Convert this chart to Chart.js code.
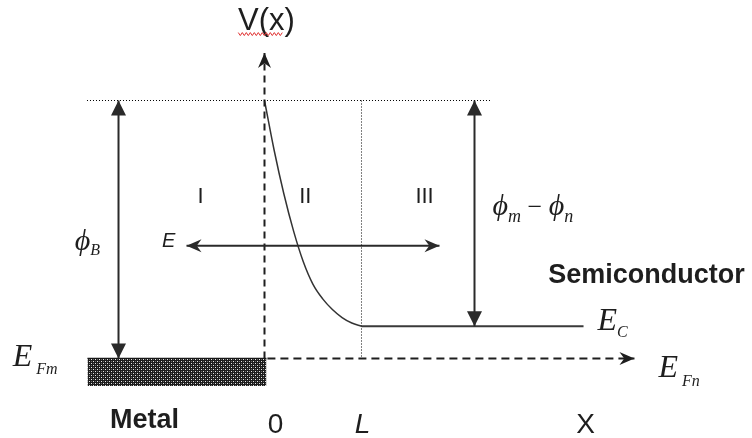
<!DOCTYPE html>
<html>
<head>
<meta charset="utf-8">
<script src="https://cdn.jsdelivr.net/npm/chart.js@4/dist/chart.umd.min.js"></script>
<style>
  html, body { margin: 0; padding: 0; background: #ffffff; }
  canvas { display: block; }
</style>
</head>
<body>
<canvas id="band" width="752" height="438"></canvas>
<script>
// Energy-band diagram of a metal / n-type semiconductor (Schottky) contact.
// Horizontal unit: depletion width L.  Vertical unit: eV above the Fermi level.

const barrierHeight = 0.8;   // phi_B, top of the barrier
const conductionEdge = 0.1;  // E_C - E_F in the neutral semiconductor

// Conduction-band edge across the depletion region (x / L, energy in eV)
const depletionX = [0, 0.1, 0.2, 0.3, 0.4, 0.5, 0.6, 0.7, 0.8, 0.9, 1.0];
const bandEdge   = [0.8, 0.645, 0.51, 0.395, 0.30, 0.23, 0.185, 0.152, 0.127, 0.11, 0.1];

const regionLabels = ['I', 'II', 'III'];
const xTickLabels  = ['0', 'L', 'X'];
const axisTitle    = 'V(x)';
const materialLabels = ['Metal', 'Semiconductor'];

const INK = '#1e1e1e';
const SANS = '"Liberation Sans", Arial, sans-serif';
const SERIF = '"Liberation Serif", "Times New Roman", serif';

const canvas = document.getElementById('band');
const ctx0 = canvas.getContext('2d');

// Cross-hatch fill for the metal
function metalPattern() {
  const tile = document.createElement('canvas');
  tile.width = 4; tile.height = 4;
  const g = tile.getContext('2d');
  g.fillStyle = '#1c1c1c';
  g.fillRect(0, 0, 4, 4);
  g.fillStyle = '#e6e6e6';
  g.fillRect(1, 1, 1, 1);
  g.fillRect(3, 3, 1, 1);
  g.fillStyle = '#6a6a6a';
  g.fillRect(3, 1, 1, 1);
  g.fillRect(1, 3, 1, 1);
  return ctx0.createPattern(tile, 'repeat');
}

const pts = (xs, ys) => xs.map((x, i) => ({ x, y: ys[i] }));
const seg = (x1, y1, x2, y2) => [{ x: x1, y: y1 }, { x: x2, y: y2 }];

const datasets = [
  // barrier-top reference level
  { data: seg(-1.83, barrierHeight, 2.34, barrierHeight), borderColor: '#000000', borderWidth: 1, borderDash: [1, 2] },
  // edge of depletion region at x = L
  { data: seg(1, barrierHeight, 1, 0), borderColor: '#000000', borderWidth: 1, borderDash: [1, 2] },
  // phi_B
  { data: seg(-1.505, 0, -1.505, barrierHeight), borderColor: '#2a2a2a', borderWidth: 2, arrowStart: 'solid', arrowEnd: 'solid' },
  // phi_m - phi_n
  { data: seg(2.165, conductionEdge, 2.165, barrierHeight), borderColor: '#2a2a2a', borderWidth: 2, arrowStart: 'solid', arrowEnd: 'solid' },
  // electric field E
  { data: seg(-0.804, 0.35, 1.804, 0.35), borderColor: '#2a2a2a', borderWidth: 2, arrowStart: 'swept', arrowEnd: 'swept' },
  // V(x) axis
  { data: seg(0, 0, 0, 0.947), borderColor: INK, borderWidth: 2, borderDash: [7, 5], arrowEnd: 'swept' },
  // x axis / Fermi level
  { data: seg(0.03, 0, 3.814, 0), borderColor: INK, borderWidth: 2, borderDash: [8, 5], arrowEnd: 'swept' },
  // band bending
  { data: pts(depletionX, bandEdge), borderColor: '#333333', borderWidth: 1.5, cubicInterpolationMode: 'monotone' },
  // flat conduction band
  { data: seg(1, conductionEdge, 3.289, conductionEdge), borderColor: '#3a3a3a', borderWidth: 2 },
  // metal block
  { data: seg(-1.825, -0.085, 0.02, -0.085), borderWidth: 0, borderColor: 'rgba(0,0,0,0)', fill: 'origin', backgroundColor: metalPattern() },
  { data: seg(-1.825, 0, 0.02, 0), borderColor: '#111111', borderWidth: 1.5 }
].map(d => Object.assign({ showLine: true, pointRadius: 0, pointHoverRadius: 0, fill: false, tension: 0 }, d));

function drawHead(ctx, from, tip, style, color) {
  const a = Math.atan2(tip.y - from.y, tip.x - from.x);
  const len = 15;
  const half = style === 'swept' ? 6.5 : 7.5;
  ctx.save();
  ctx.translate(tip.x, tip.y);
  ctx.rotate(a);
  ctx.beginPath();
  ctx.moveTo(0, 0);
  ctx.lineTo(-len, -half);
  if (style === 'swept') ctx.lineTo(-len * 0.68, 0);
  ctx.lineTo(-len, half);
  ctx.closePath();
  ctx.fillStyle = color;
  ctx.fill();
  ctx.restore();
}

const arrowHeads = {
  id: 'arrowHeads',
  afterDatasetsDraw(chart) {
    const ctx = chart.ctx;
    chart.data.datasets.forEach((ds, i) => {
      const el = chart.getDatasetMeta(i).data;
      if (ds.arrowEnd) drawHead(ctx, el[el.length - 2], el[el.length - 1], ds.arrowEnd, ds.borderColor);
      if (ds.arrowStart) drawHead(ctx, el[1], el[0], ds.arrowStart, ds.borderColor);
    });
  }
};

// Text runs: each piece is [text, font, baseline shift]
function run(ctx, x, y, pieces, color) {
  ctx.save();
  ctx.fillStyle = color || INK;
  ctx.textAlign = 'left';
  ctx.textBaseline = 'alphabetic';
  let cx = x;
  pieces.forEach(([t, font, dy]) => {
    ctx.font = font;
    ctx.fillText(t, cx, y + (dy || 0));
    cx += ctx.measureText(t).width;
  });
  ctx.restore();
}
function centered(ctx, x, y, text, font) {
  ctx.save();
  ctx.fillStyle = INK;
  ctx.font = font;
  ctx.textAlign = 'center';
  ctx.textBaseline = 'alphabetic';
  ctx.fillText(text, x, y);
  ctx.restore();
}

const annotations = {
  id: 'annotations',
  afterDraw(chart) {
    const ctx = chart.ctx;
    const sx = v => chart.scales.x.getPixelForValue(v);
    const sy = v => chart.scales.y.getPixelForValue(v);

    // axis title with its squiggly underline
    centered(ctx, sx(0.02), sy(1.018), axisTitle, `31px ${SANS}`);
    ctx.save();
    ctx.strokeStyle = '#e03030';
    ctx.lineWidth = 1;
    ctx.beginPath();
    const x0 = sx(-0.27), x1 = sx(0.2), yq = sy(1.006);
    for (let x = x0, k = 0; x <= x1; x += 2, k++) {
      const yy = yq + (k % 2 ? 1.5 : -1.5);
      if (k === 0) ctx.moveTo(x, yy); else ctx.lineTo(x, yy);
    }
    ctx.stroke();
    ctx.restore();

    // region numerals
    const rx = [-0.66, 0.42, 1.65];
    regionLabels.forEach((t, i) => centered(ctx, sx(rx[i]), sy(0.4816), t, `22px ${SANS}`));

    // position labels under the x axis
    centered(ctx, sx(0.114), sy(-0.2316), xTickLabels[0], `28px ${SANS}`);
    centered(ctx, sx(1.011), sy(-0.2316), xTickLabels[1], `italic 28px ${SANS}`);
    centered(ctx, sx(3.31), sy(-0.2316), xTickLabels[2], `28px ${SANS}`);

    // materials
    centered(ctx, sx(-1.236), sy(-0.216), materialLabels[0], `bold 27px ${SANS}`);
    centered(ctx, sx(3.938), sy(0.2335), materialLabels[1], `bold 27px ${SANS}`);

    // field
    centered(ctx, sx(-0.988), sy(0.345), 'E', `italic 20px ${SANS}`);

    // energy symbols
    const big = `italic 32px ${SERIF}`, sub = `italic 16px ${SERIF}`;
    run(ctx, sx(-2.596), sy(-0.024), [['E', big], [' Fm', sub, 8]]);
    run(ctx, sx(3.433), sy(0.088), [['E', big], ['C', sub, 7]]);
    run(ctx, sx(4.061), sy(-0.058), [['E', big], [' Fn', sub, 9]]);

    const phi = `italic 30px ${SERIF}`, psub = `italic 18px ${SERIF}`;
    run(ctx, sx(-1.957), sy(0.336), [['\u03D5', phi], ['B', `italic 16px ${SERIF}`, 5]]);
    run(ctx, sx(2.351), sy(0.444), [
      ['\u03D5', phi], ['m', psub, 7], [' \u2212 ', `26px ${SERIF}`], ['\u03D5', phi], ['n', psub, 7]
    ]);
  }
};

new Chart(canvas, {
  type: 'scatter',
  data: { datasets },
  options: {
    responsive: false,
    animation: false,
    events: [],
    layout: { padding: 0 },
    plugins: { legend: { display: false }, tooltip: { enabled: false } },
    scales: {
      x: { type: 'linear', display: false, min: -2.7268, max: 5.0258 },
      y: { type: 'linear', display: false, min: -0.24651, max: 1.11163 }
    }
  },
  plugins: [arrowHeads, annotations]
});
</script>
</body>
</html>
